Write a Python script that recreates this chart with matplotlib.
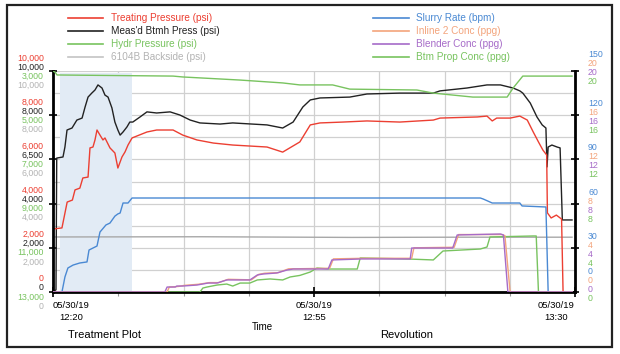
import matplotlib
matplotlib.use('Agg')
import matplotlib.pyplot as plt
from matplotlib.lines import Line2D
from matplotlib.patches import Rectangle

plt.rcParams['font.family'] = ['Liberation Sans Narrow', 'Liberation Sans', 'DejaVu Sans']

# minutes after 12:20 on 05/30/19
x_ticks = [0, 35, 70]
x_labels = ['05/30/19\n12:20', '05/30/19\n12:55', '05/30/19\n13:30']

# Treating Pressure (psi)
treat_t = [0, 1.2, 1.9, 2.6, 2.95, 3.6, 4.0, 4.7, 4.96, 5.36, 5.63, 5.9, 6.3, 6.7, 6.97, 7.64,
           8.3, 8.7, 9.25, 9.66, 10.06, 10.6, 11.26, 12.6, 13.9, 16.1, 17.4, 19.3, 21.5, 24.1,
           28.7, 30.8, 33.1, 34.5, 35.8, 38.9, 42.1, 46.5, 51.0, 51.9, 56.9, 58.2, 58.9, 59.5,
           61.3, 62.6, 63.6, 64.4, 65.1, 65.7, 66.2, 66.3, 66.8, 67.5, 68.2, 68.4, 69.6]
treat_v = [2850, 2900, 4070, 4160, 4620, 4700, 5160, 5200, 6520, 6560, 6880, 7330, 7100, 6880,
           6970, 6520, 6290, 5610, 6110, 6340, 6650, 6970, 7060, 7240, 7330, 7330, 7100, 6880,
           6740, 6650, 6560, 6330, 6790, 7560, 7650, 7690, 7740, 7690, 7780, 7870, 7920, 7960,
           7740, 7870, 7870, 7960, 7780, 7240, 6790, 6420, 6200, 3580, 3350, 3480, 3300, 0, 0]

# Meas'd Btmh Press (psi)
btmh_t = [0, 0.4, 0.5, 1.34, 1.6, 1.88, 2.55, 3.2, 3.9, 4.3, 4.7, 5.2, 5.63, 6.03, 6.57, 6.97,
          7.38, 7.9, 8.3, 8.7, 9.0, 9.39, 9.92, 10.3, 10.7, 11.67, 12.6, 13.9, 15.7, 17.0, 18.4,
          19.7, 22.4, 24.1, 28.7, 30.8, 32.2, 33.5, 34.5, 35.8, 39.8, 42.1, 46.5, 51.0, 51.9,
          55.5, 58.2, 60.0, 61.7, 62.6, 63.0, 64.0, 64.9, 65.6, 66.1, 66.25, 66.4, 66.9, 67.6,
          68.0, 68.3, 69.6]
btmh_v = [0, 100, 6060, 6110, 6560, 7330, 7420, 7780, 7870, 8370, 8820, 9000, 9140, 9370, 9230,
          8910, 8820, 8330, 7690, 7330, 7100, 7240, 7470, 7690, 7690, 7920, 8150, 8100, 8150,
          8010, 7780, 7650, 7600, 7650, 7560, 7420, 7690, 8370, 8690, 8780, 8820, 8960, 9000,
          9000, 9100, 9230, 9370, 9370, 9230, 9100, 9000, 8550, 7920, 7560, 7420, 5660, 6560,
          6650, 6560, 6520, 3260, 3260]

# Hydr Pressure (psi), drawn on an inverted scale
hydr_t = [0, 0.27, 0.54, 16.1, 17.4, 25.1, 30.8, 33.1, 37.5, 39.8, 48.8, 51.0, 56.3, 60.9,
          61.7, 63.0, 69.6]
hydr_v = [3000, 3050, 3180, 3230, 3270, 3410, 3540, 3630, 3630, 3820, 3860, 4000, 4180, 4180,
          3770, 3230, 3230]

# 6104B Backside (psi)
back_t = [0, 20, 40, 55, 69.6]
back_v = [2490, 2500, 2470, 2480, 2480]

# Slurry Rate (bpm)
rate_t = [0, 1.2, 1.6, 2.0, 2.7, 3.6, 4.56, 4.83, 5.9, 6.3, 7.1, 7.64, 8.3, 8.7, 9.0, 9.39,
          10.06, 10.6, 57.3, 57.7, 58.9, 62.6, 62.9, 66.1, 66.4, 69.6]
rate_v = [0, 0, 10.2, 16.3, 18.3, 19.7, 20.4, 28.5, 31.2, 40.7, 45.5, 46.8, 51.5, 53.0, 53.6,
          60.4, 60.4, 63.8, 63.8, 63.1, 60.4, 60.4, 58.4, 57.7, 0, 0]

# Inline 2 Conc (ppg)
inline_t = [0, 15.3, 15.6, 16.8, 17.6, 19.5, 21.0, 22.2, 23.5, 26.6, 27.6, 28.4, 30.2, 31.6,
            32.4, 37.1, 37.6, 41.6, 48.1, 48.4, 53.8, 54.4, 60.2, 60.6, 61.3, 69.6]
inline_v = [0, 0, 0.45, 0.5, 0.6, 0.7, 0.85, 0.85, 1.15, 1.1, 1.6, 1.7, 1.75, 2.1, 2.1, 2.15,
            3.0, 3.05, 3.05, 4.0, 4.05, 5.2, 5.2, 5.1, 0, 0]

# Blender Conc (ppg)
blend_t = [0, 15.0, 15.3, 16.4, 16.6, 17.4, 19.3, 20.8, 22.0, 23.3, 26.4, 27.4, 28.2, 30.0,
           31.4, 32.2, 36.9, 37.4, 41.4, 47.9, 48.1, 53.6, 54.2, 60.0, 60.4, 61.0, 69.6]
blend_v = [0, 0, 0.45, 0.45, 0.54, 0.54, 0.63, 0.81, 0.81, 1.09, 1.09, 1.54, 1.63, 1.72, 1.99,
           2.08, 2.08, 2.9, 2.99, 2.99, 3.98, 3.98, 5.16, 5.25, 5.16, 0, 0]

# Btm Prop Conc (ppg)
prop_t = [0, 19.7, 20.1, 20.65, 22.0, 23.3, 24.1, 25.1, 26.4, 27.4, 29.1, 30.8, 31.8, 33.1,
          34.5, 35.4, 37.1, 40.8, 41.2, 47.5, 51.0, 52.3, 57.3, 58.2, 58.6, 64.4, 64.8, 65.1, 69.6]
prop_v = [0, 0, 0.36, 0.45, 0.63, 0.72, 0.54, 0.81, 0.81, 1.09, 1.18, 1.09, 1.36, 1.5, 1.81,
          2.17, 2.08, 2.08, 3.08, 2.99, 2.9, 3.71, 3.89, 4.07, 4.98, 5.07, 5.07, 0, 0]

# stacked axis labels
press_ticks = [0, 2000, 4000, 6000, 8000, 10000]
treat_labels = ['0', '2,000', '4,000', '6,000', '8,000', '10,000']
btmh_labels = ['0', '2,000', '4,000', '6,500', '8,000', '10,000']
hydr_ticks = [13000, 11000, 9000, 7000, 5000, 3000]
hydr_labels = ['13,000', '11,000', '9,000', '7,000', '5,000', '3,000']
back_labels = ['0', '2,000', '4,000', '6,000', '8,000', '10,000']
rate_ticks = [0, 30, 60, 90, 120, 150]
conc_ticks = [0, 4, 8, 12, 16, 20]

RED = '#ec3f32'
BLACK = '#222222'
GREEN = '#78c35f'
GRAY = '#b3b3b3'
BLUE = '#4a89d3'
ORANGE = '#f3a47c'
PURPLE = '#a66bc8'

fig = plt.figure(figsize=(6.2, 3.54), dpi=100)
ax = fig.add_axes([53 / 620, 1 - 292 / 354, 522 / 620, 221 / 354])
ax.set_xlim(0, 70)
ax.set_ylim(0, 10000)

# grid
for v in range(1000, 10001, 1000):
    ax.axhline(v, color='#d0d0d0', lw=0.9, zorder=0)
for t in [8.75 * i for i in range(1, 8)]:
    ax.axvline(t, color='#d0d0d0', lw=0.9, zorder=0)
ax.axvspan(0.94, 10.6, ymax=0.99, color='#e2ebf5', zorder=0, lw=0)

ax.plot(back_t, back_v, color='#a8a8a8', lw=1.0)
ax.plot(btmh_t, btmh_v, color=BLACK, lw=1.0)
ax.plot(treat_t, treat_v, color=RED, lw=1.0)

ax_h = ax.twinx()
ax_h.set_ylim(13000, 3000)
ax_h.set_axis_off()
ax_h.plot(hydr_t, hydr_v, color=GREEN, lw=1.0)

ax_r = ax.twinx()
ax_r.set_ylim(0, 150)
ax_r.set_axis_off()
ax_r.plot(rate_t, rate_v, color=BLUE, lw=1.0)

ax_c = ax.twinx()
ax_c.set_ylim(0, 20)
ax_c.set_axis_off()
ax_c.plot(prop_t, prop_v, color=GREEN, lw=1.0)
ax_c.plot(inline_t, inline_v, color=ORANGE, lw=1.0)
ax_c.plot(blend_t, blend_v, color=PURPLE, lw=1.0)
for a in (ax_h, ax_r, ax_c):
    a.set_xlim(0, 70)

# spines and ticks
ax.spines['top'].set_visible(False)
for s in ('left', 'right', 'bottom'):
    ax.spines[s].set_linewidth(2.0)
    ax.spines[s].set_color('black')
ax.set_yticks(press_ticks)
ax.set_yticklabels([])
ax.tick_params(axis='y', left=True, right=True, direction='inout', length=6, width=1.2)
ax.set_xticks(x_ticks)
ax.set_xticks([8.75 * i for i in range(1, 8)], minor=True)
ax.set_xticklabels(x_labels, fontsize=6.8, linespacing=1.45)
ax.tick_params(axis='x', which='major', direction='inout', length=7, width=1.2, pad=3)
ax.tick_params(axis='x', which='minor', direction='out', length=3, width=0.8, color='#999999')
xl = ax.get_xticklabels()
xl[0].set_horizontalalignment('left')
xl[2].set_horizontalalignment('right')
for lab in xl:
    lab.set_multialignment('center')

# stacked left labels (offsets in points)
left_sets = [(ax, press_ticks, treat_labels, RED, 9.4),
             (ax, press_ticks, btmh_labels, BLACK, 2.9),
             (ax_h, hydr_ticks, hydr_labels, GREEN, -3.6),
             (ax, press_ticks, back_labels, GRAY, -10.1)]
for a, ticks, labels, col, dy in left_sets:
    for v, lab in zip(ticks, labels):
        a.annotate(lab, xy=(0, v), xycoords=a.get_yaxis_transform(), xytext=(-6.5, dy),
                   textcoords='offset points', ha='right', va='center', fontsize=6.3, color=col)

right_shift = [6.5, 0, 0, 0, 0, 3.6]
right_sets = [(ax_r, rate_ticks, BLUE, 8.3),
              (ax_c, conc_ticks, ORANGE, 1.8),
              (ax_c, conc_ticks, PURPLE, -4.7),
              (ax_c, conc_ticks, GREEN, -11.2)]
for a, ticks, col, dy in right_sets:
    for i, v in enumerate(ticks):
        a.annotate(str(v), xy=(1, v), xycoords=a.get_yaxis_transform(),
                   xytext=(9.4, dy + right_shift[i]), textcoords='offset points',
                   ha='left', va='center', fontsize=6.3, color=col)

# legends
left_leg = [('Treating Pressure (psi)', RED, RED),
            ("Meas'd Btmh Press (psi)", BLACK, BLACK),
            ('Hydr Pressure (psi)', GREEN, GREEN),
            ('6104B Backside (psi)', '#c4c4c4', GRAY)]
right_leg = [('Slurry Rate (bpm)', BLUE, BLUE),
             ('Inline 2 Conc (ppg)', ORANGE, ORANGE),
             ('Blender Conc (ppg)', PURPLE, PURPLE),
             ('Btm Prop Conc (ppg)', GREEN, GREEN)]
rows = [18, 31, 44, 57]
for (lab, lc, tc), y in zip(left_leg, rows):
    yf = 1 - y / 354
    fig.add_artist(Line2D([68 / 620, 103 / 620], [yf, yf], color=lc, lw=1.2))
    fig.text(111 / 620, yf, lab, color=tc, fontsize=7.2, va='center')
for (lab, lc, tc), y in zip(right_leg, rows):
    yf = 1 - y / 354
    fig.add_artist(Line2D([373 / 620, 409 / 620], [yf, yf], color=lc, lw=1.2))
    fig.text(416 / 620, yf, lab, color=tc, fontsize=7.2, va='center')

fig.text(262 / 620, 1 - 327 / 354, 'Time', fontsize=7, ha='center', va='center')
fig.text(105 / 620, 1 - 335 / 354, 'Treatment Plot', fontsize=8, ha='center', va='center')
fig.text(407 / 620, 1 - 335 / 354, 'Revolution', fontsize=8, ha='center', va='center')

fig.add_artist(Rectangle((7 / 620, 1 - 347 / 354), 605 / 620, 342 / 354,
                         transform=fig.transFigure, fill=False, lw=1.6, edgecolor='#222222'))

fig.savefig('out.png', dpi=100)
